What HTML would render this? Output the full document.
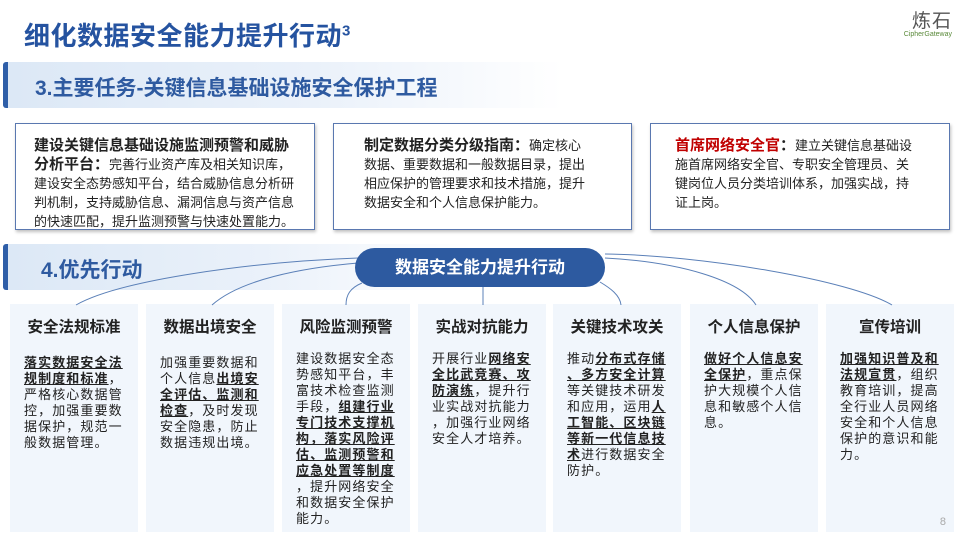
<!DOCTYPE html>
<html><head><meta charset="utf-8"><style>
*{margin:0;padding:0;box-sizing:border-box}
body{width:960px;height:540px;overflow:hidden;background:#fff;font-family:"Liberation Sans","Noto Sans CJK SC",sans-serif;position:relative;color:#222}
.title{position:absolute;left:24px;top:16px;font-size:26px;font-weight:bold;color:#2553a0;letter-spacing:0.5px}
.title sup{font-size:15px}
.logo{position:absolute;right:8px;top:6px;text-align:right}
.logo .a{font-size:19px;color:#555;letter-spacing:1px}
.logo .b{font-size:7px;color:#5a8a3a;margin-top:-2px}
.band{position:absolute;left:3px;height:46px;background:linear-gradient(90deg,#dce8f6,#eaf1fa 55%,rgba(255,255,255,0));border-left:5px solid #2e5ea8;border-radius:3px}
.band span{position:absolute;left:27px;top:10px;font-size:21px;font-weight:bold;color:#2e5aa0}
.box{position:absolute;top:123px;height:107px;border:1.5px solid #5a78b0;box-shadow:1px 2px 3px rgba(0,0,0,.25);font-size:13px;line-height:19px;background:#fff}
.box b{font-size:15px}
.col{position:absolute;top:304px;height:228px;width:128px;background:#f1f6fc}
.col h3{text-align:center;font-size:15.5px;margin-top:11px;font-weight:bold}
.col p{margin:18px 10px 0 14px;font-size:13px;line-height:16px;letter-spacing:1.1px;line-break:anywhere}
.col u{font-weight:bold}
.pill{position:absolute;left:355px;top:248px;width:250px;height:39px;background:#2d5aa0;border-radius:20px;color:#fff;font-size:17px;font-weight:bold;text-align:center;line-height:39px}
</style></head><body>
<div class="title">细化数据安全能力提升行动<sup>3</sup></div>
<div class="logo"><div class="a">炼石</div><div class="b">CipherGateway</div></div>
<div class="band" style="top:62px;width:560px"><span>3.主要任务-关键信息基础设施安全保护工程</span></div>
<div class="box" style="left:15px;width:300px;padding:12px 20px 0 18px"><b>建设关键信息基础设施监测预警和威胁分析平台：</b>完善行业资产库及相关知识库，建设安全态势感知平台，结合威胁信息分析研判机制，支持威胁信息、漏洞信息与资产信息的快速匹配，提升监测预警与快速处置能力。</div>
<div class="box" style="left:333px;width:299px;padding:12px 40px 0 30px"><b>制定数据分类分级指南：</b>确定核心数据、重要数据和一般数据目录，提出相应保护的管理要求和技术措施，提升数据安全和个人信息保护能力。</div>
<div class="box" style="left:650px;width:300px;padding:12px 32px 0 24px"><b style="color:#c00000">首席网络安全官</b><b>：</b>建立关键信息基础设施首席网络安全官、专职安全管理员、关键岗位人员分类培训体系，加强实战，持证上岗。</div>
<div class="band" style="top:244px;width:470px"><span style="left:33px">4.优先行动</span></div>
<div class="col" style="left:10px"><h3>安全法规标准</h3><p><u>落实数据安全法规制度和标准</u>，严格核心数据管控，加强重要数据保护，规范一般数据管理。</p></div>
<div class="col" style="left:146px"><h3>数据出境安全</h3><p>加强重要数据和个人信息<u>出境安全评估、监测和检查</u>，及时发现安全隐患，防止数据违规出境。</p></div>
<div class="col" style="left:282px"><h3>风险监测预警</h3><p style="margin-top:14px">建设数据安全态势感知平台，丰富技术检查监测手段，<u>组建行业专门技术支撑机构，落实风险评估、监测预警和应急处置等制度</u>，提升网络安全和数据安全保护能力。</p></div>
<div class="col" style="left:418px"><h3>实战对抗能力</h3><p style="margin-top:14px">开展行业<u>网络安全比武竞赛、攻防演练</u>，提升行业实战对抗能力，加强行业网络安全人才培养。</p></div>
<div class="col" style="left:553px"><h3>关键技术攻关</h3><p style="margin-top:14px">推动<u>分布式存储、多方安全计算</u>等关键技术研发和应用，运用<u>人工智能、区块链等新一代信息技术</u>进行数据安全防护。</p></div>
<div class="col" style="left:690px"><h3>个人信息保护</h3><p style="margin-top:14px"><u>做好个人信息安全保护</u>，重点保护大规模个人信息和敏感个人信息。</p></div>
<div class="col" style="left:826px"><h3>宣传培训</h3><p style="margin-top:14px"><u>加强知识普及和法规宣贯</u>，组织教育培训，提高全行业人员网络安全和个人信息保护的意识和能力。</p><div style="position:absolute;right:8px;bottom:4px;font-size:11px;color:#aaa">8</div></div>
<svg style="position:absolute;left:0;top:0" width="960" height="540">
<g fill="none" stroke="#5b80b8" stroke-width="1">
<path d="M358 258 C250 262 120 280 76 305"/>
<path d="M358 263 C300 268 240 280 212 305"/>
<path d="M362 283 C350 288 346 295 346 305"/>
<path d="M483 287 L483 305"/>
<path d="M600 282 C610 288 620 295 621 305"/>
<path d="M605 258 C680 262 740 280 756 305"/>
<path d="M605 254 C700 255 850 280 892 305"/>
</g></svg>
<div class="pill">数据安全能力提升行动</div>
</body></html>
